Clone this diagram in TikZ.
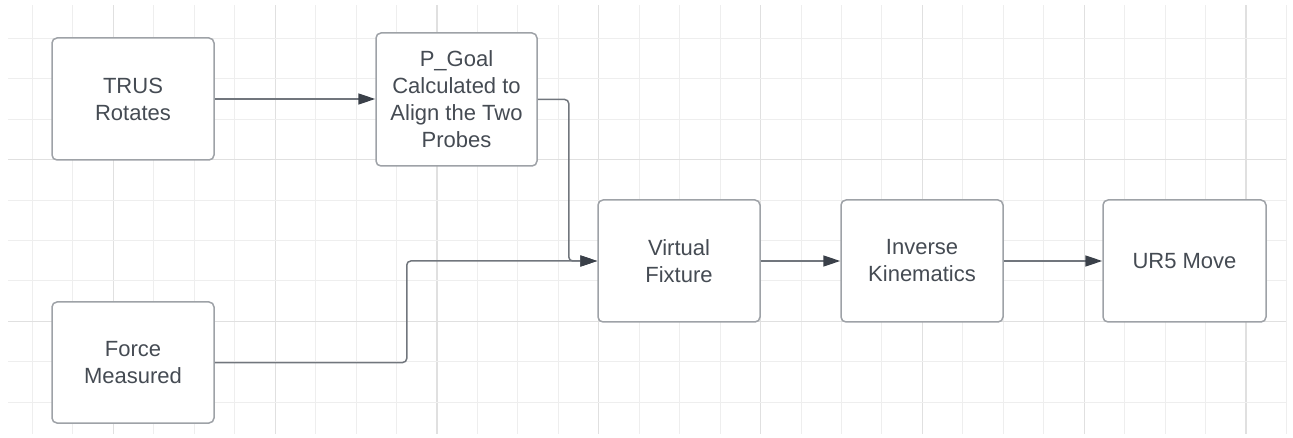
\documentclass[tikz,border=0pt]{standalone}
\usepackage{fontspec}
\setmainfont{Liberation Sans}
\usepackage{xcolor}
\usepackage{tikz}
\usetikzlibrary{arrows.meta,positioning,calc}

\definecolor{gridminor}{HTML}{EEEEEE}
\definecolor{gridmajor}{HTML}{E0E0E0}
\definecolor{boxline}{HTML}{9EA2A7}
\definecolor{inkgray}{HTML}{454B53}
\definecolor{wiregray}{HTML}{71767D}
\definecolor{tipgray}{HTML}{3A4049}

\begin{document}
\begin{tikzpicture}[x=1pt,y=-1pt,
    block/.style={draw=boxline,line width=1.5pt,rounded corners=5pt,fill=white,
        text=inkgray,align=center,inner sep=0pt,
        minimum width=162pt,minimum height=122pt,
        font=\fontsize{22}{27}\selectfont},
    wire/.style={draw=wiregray,line width=1.5pt,rounded corners=4pt,
        -{Triangle[length=17pt,width=11pt,color=tipgray]}}]
    \useasboundingbox (0,0) rectangle (1293,438);

    % Grid
    \foreach \k in {0,...,31} {
        \pgfmathsetmacro{\gx}{32.5+40.45*\k}
        \pgfmathsetmacro{\major}{int(mod(\k,4))}
        \ifnum\major=2
            \draw[gridmajor,line width=1.2pt] (\gx,5) -- (\gx,434);
        \else
            \draw[gridminor,line width=1pt] (\gx,5) -- (\gx,434);
        \fi
    }
    \foreach \k in {0,...,9} {
        \pgfmathsetmacro{\gy}{38.5+40.4*\k}
        \pgfmathsetmacro{\major}{int(mod(\k,4))}
        \ifnum\major=3
            \draw[gridmajor,line width=1.2pt] (8,\gy) -- (1286,\gy);
        \else
            \draw[gridminor,line width=1pt] (8,\gy) -- (1286,\gy);
        \fi
    }

    % Blocks
    \node[block] (trus) at (133,99) {TRUS\\Rotates};
    \node[block,minimum width=161pt,minimum height=133pt] (pgoal) at (456.5,99.5)
        {P\_Goal\\Calculated to\\Align the Two\\Probes};
    \node[block,minimum height=121pt] (force) at (133,362.5) {Force\\Measured};
    \node[block] (vfix) at (679,261) {Virtual\\Fixture};
    \node[block] (ik) at (922,261) {Inverse\\Kinematics};
    \node[block,minimum width=163pt] (ur5) at (1184.5,261) {UR5 Move};

    % Connectors
    \draw[wire] (trus.east) -- (trus.east -| pgoal.west);
    \draw[wire] (pgoal.east) -- ++(31,0) |- (vfix.west);
    \draw[wire] (force.east) -- ++(192,0) |- (vfix.west);
    \draw[wire] (vfix) -- (ik);
    \draw[wire] (ik) -- (ur5);
\end{tikzpicture}
\end{document}
